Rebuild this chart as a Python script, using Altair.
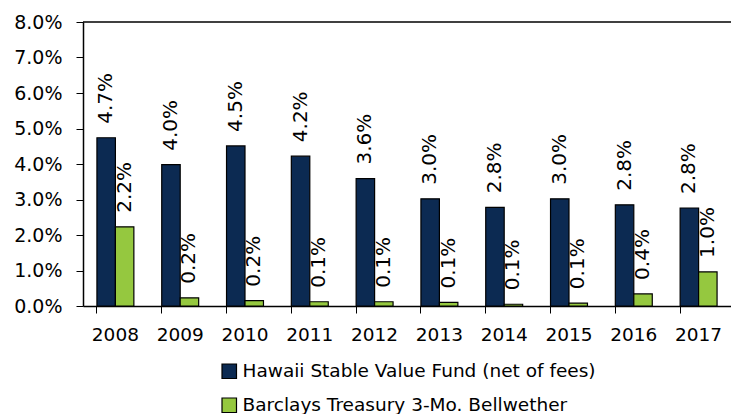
import altair as alt
import pandas as pd

years = ["2008", "2009", "2010", "2011", "2012", "2013", "2014", "2015", "2016", "2017"]
series = ["Hawaii Stable Value Fund (net of fees)", "Barclays Treasury 3-Mo. Bellwether"]
hawaii = [4.74, 3.98, 4.51, 4.22, 3.59, 3.02, 2.78, 3.02, 2.85, 2.76]
barclays = [2.23, 0.23, 0.15, 0.12, 0.12, 0.10, 0.05, 0.08, 0.34, 0.96]
hawaii_labels = ["4.7%", "4.0%", "4.5%", "4.2%", "3.6%", "3.0%", "2.8%", "3.0%", "2.8%", "2.8%"]
barclays_labels = ["2.2%", "0.2%", "0.2%", "0.1%", "0.1%", "0.1%", "0.1%", "0.1%", "0.4%", "1.0%"]
y_ticks = [0.0, 0.01, 0.02, 0.03, 0.04, 0.05, 0.06, 0.07, 0.08]
colors = ["#0c2a52", "#95c83f"]

rows = []
for i, y in enumerate(years):
    rows.append({"year": y, "series": series[0], "value": hawaii[i] / 100, "label": hawaii_labels[i]})
    rows.append({"year": y, "series": series[1], "value": barclays[i] / 100, "label": barclays_labels[i]})
df = pd.DataFrame(rows)

FONT = "DejaVu Sans"

x_scale = alt.Scale(paddingInner=0.43, paddingOuter=0.215)
y_scale = alt.Scale(domain=[0, 0.08])
x_axis = alt.Axis(labelAngle=0, labelFontSize=18.5, labelColor="black", labelFont=FONT,
                  tickColor="black", tickSize=7, domainColor="black", domainWidth=1.5,
                  labelPadding=12, bandPosition=0, title=None)
y_axis = alt.Axis(format=".1%", values=y_ticks, labelFontSize=19,
                  labelColor="black", labelFont=FONT, tickColor="black", tickSize=7,
                  domainColor="black", domainWidth=1.5, labelPadding=14, grid=False,
                  labelOverlap=False, title=None)
xoff = alt.XOffset("series:N", sort=series, scale=alt.Scale(paddingInner=0, paddingOuter=0))

bars = alt.Chart(df).mark_bar(stroke="black", strokeWidth=1.2).encode(
    x=alt.X("year:N", sort=years, scale=x_scale, axis=x_axis),
    xOffset=xoff,
    y=alt.Y("value:Q", scale=y_scale, axis=y_axis),
    color=alt.Color("series:N", sort=series, scale=alt.Scale(domain=series, range=colors),
                    legend=alt.Legend(title=None, orient="none", legendX=137, legendY=340,
                                      direction="vertical", symbolType="square", symbolSize=210,
                                      symbolStrokeColor="black", symbolStrokeWidth=1.2,
                                      labelFontSize=18.5, labelFont=FONT, labelColor="black",
                                      labelLimit=600,
                                      rowPadding=14, labelOffset=4, symbolOpacity=1)),
)

labels = alt.Chart(df).mark_text(angle=270, align="left", baseline="middle", dx=14,
                                 fontSize=20, font=FONT, color="black").encode(
    x=alt.X("year:N", sort=years, scale=x_scale, axis=x_axis),
    xOffset=xoff,
    y=alt.Y("value:Q", scale=y_scale, axis=y_axis),
    text="label:N",
)

top_rule = alt.Chart(pd.DataFrame({"value": [0.08]})).mark_rule(color="black", strokeWidth=1.5).encode(
    y=alt.Y("value:Q", scale=y_scale, axis=y_axis)
)

chart = alt.layer(bars, labels, top_rule).properties(
    width=648, height=284,
    autosize=alt.AutoSizeParams(type="none"),
    padding={"left": 83, "top": 22, "right": 0, "bottom": 108},
).configure_view(stroke=None).configure_axis(grid=False)

chart.save("out.html", embed_options={"renderer": "svg", "actions": False})
